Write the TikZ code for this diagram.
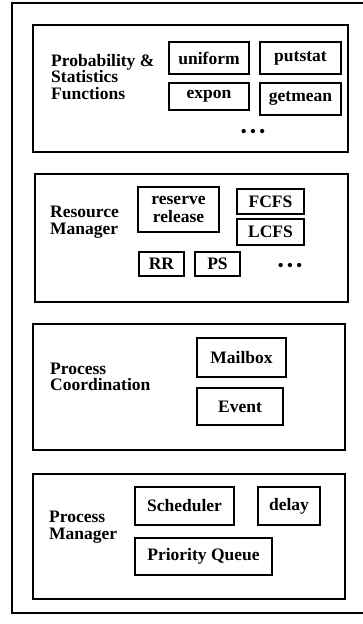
\documentclass[tikz,border=0pt]{standalone}
\usepackage{fontspec}
\setmainfont{Liberation Serif}
\usetikzlibrary{positioning}

\begin{document}
\begin{tikzpicture}[x=1pt, y=-1pt,
    panel/.style={rectangle, draw, line width=1.6pt, inner sep=0pt},
    fnbox/.style={rectangle, draw, line width=1.4pt, inner sep=0pt, align=center,
                  font=\fontsize{17.5}{18}\selectfont\bfseries},
    layer/.style={anchor=west, align=left, inner sep=0pt,
                  font=\fontsize{17.5}{16.5}\selectfont\bfseries},
    more/.style={inner sep=0pt, font=\fontsize{18}{18}\selectfont}]
    \useasboundingbox (0,0) rectangle (362,624);

    % Outer frame
    \draw[line width=1.6pt] (366,3) -- (12,3) -- (12,613) -- (366,613);

    % Layers
    \node[panel, minimum width=315, minimum height=127] (stat) at (190.5, 88.5) {};
    \node[panel, minimum width=313, minimum height=128] (res) at (191.5, 238) {};
    \node[panel, minimum width=312, minimum height=126] (coord) at (189, 387) {};
    \node[panel, minimum width=312, minimum height=125] (proc) at (189, 536.5) {};

    % Probability & Statistics Functions
    \node[layer] (statlbl) at (51, 77) {Probability \&\\Statistics\\Functions};
    \node[fnbox, minimum width=80, minimum height=32] (uniform) at (209, 58) {uniform};
    \node[fnbox, minimum width=81, minimum height=32] (putstat) at (300.5, 58) {putstat};
    \node[fnbox, minimum width=80, minimum height=27] (expon) at (209, 96.5) {expon};
    \node[fnbox, minimum width=81, minimum height=32] (getmean) at (300.5, 99) {getmean};
    \node[more] (statmore) at (253, 133) {\textbullet\hspace{3pt}\textbullet\hspace{3pt}\textbullet};

    % Resource Manager
    \node[layer] (reslbl) at (50, 222) {Resource\\Manager};
    \node[fnbox, minimum width=81, minimum height=45] (resrel) at (178.5, 209.5) {reserve\\release};
    \node[fnbox, minimum width=67, minimum height=25] (fcfs) at (270.5, 201.5) {FCFS};
    \node[fnbox, minimum width=67, minimum height=26] (lcfs) at (270.5, 232) {LCFS};
    \node[fnbox, minimum width=45, minimum height=24] (rr) at (161.5, 264) {RR};
    \node[fnbox, minimum width=45, minimum height=24] (ps) at (217.5, 264) {PS};
    \node[more] (resmore) at (290, 267) {\textbullet\hspace{3pt}\textbullet\hspace{3pt}\textbullet};

    % Process Coordination
    \node[layer] (coordlbl) at (50, 377) {Process\\Coordination};
    \node[fnbox, minimum width=89, minimum height=39] (mailbox) at (241.5, 357.5) {Mailbox};
    \node[fnbox, minimum width=86, minimum height=37] (event) at (240, 406.5) {Event};

    % Process Manager
    \node[layer] (proclbl) at (49, 527) {Process\\Manager};
    \node[fnbox, minimum width=99, minimum height=38] (sched) at (184.5, 506) {Scheduler};
    \node[fnbox, minimum width=62, minimum height=38] (delay) at (289, 506) {delay};
    \node[fnbox, minimum width=137, minimum height=37] (pqueue) at (203.5, 556.5) {Priority Queue};
\end{tikzpicture}
\end{document}
